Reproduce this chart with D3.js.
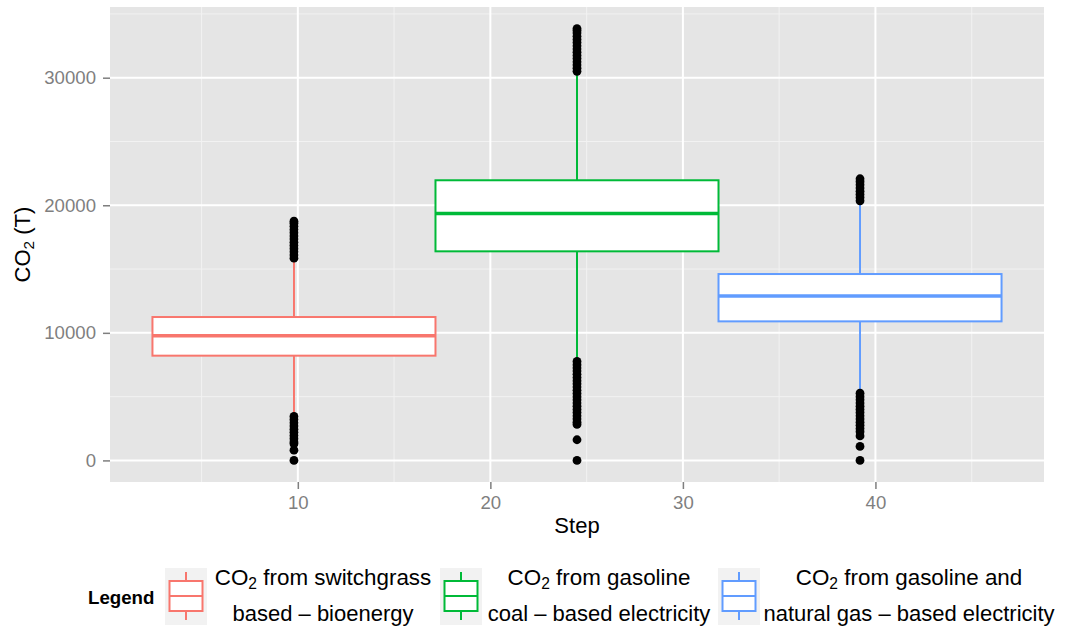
<!DOCTYPE html>
<html>
<head>
<meta charset="utf-8">
<script src="https://cdn.jsdelivr.net/npm/d3@7"></script>
<style>
  html, body { margin: 0; padding: 0; background: #ffffff; }
  svg { display: block; }
  text { font-family: "Liberation Sans", Arial, Helvetica, sans-serif; }
</style>
</head>
<body>
<svg id="chart" width="1073" height="631"></svg>
<script>
// ---------- data ----------
const seriesLine1 = ["from switchgrass", "from gasoline", "from gasoline and"];
const seriesLine2 = ["based \u2013 bioenergy", "coal \u2013 based electricity", "natural gas \u2013 based electricity"];
const colors = ["#F8766D", "#00BA38", "#619CFF"];
const steps = [9.8, 24.5, 39.2];
const boxWidth = 14.7;
const q1 = [8210, 16390, 10900];
const medians = [9780, 19350, 12890];
const q3 = [11240, 21960, 14610];
const whiskerLow = [3690, 7970, 5490];
const whiskerHigh = [15690, 30330, 20130];
const outliersSwitchgrass = [
  15850, 16100, 16350, 16600, 16850, 17100, 17350, 17600, 17850, 18100, 18350, 18600, 18750,
  3450, 3200, 2950, 2700, 2450, 2200, 1950, 1700, 1450, 1300, 800, 0
];
const outliersCoal = [
  30500, 30750, 31000, 31250, 31500, 31750, 32000, 32250, 32500, 32750, 33000, 33250, 33500, 33700, 33850,
  7760, 7500, 7250, 7000, 6750, 6500, 6250, 6000, 5750, 5500, 5250, 5000, 4750, 4500, 4250, 4000,
  3750, 3500, 3250, 3000, 2820, 1620, 0
];
const outliersNaturalGas = [
  20350, 20600, 20850, 21100, 21350, 21600, 21850, 22080,
  5270, 5000, 4750, 4500, 4250, 4000, 3750, 3500, 3250, 3000, 2750, 2500, 2250, 1920, 1100, 0
];
const outliers = [outliersSwitchgrass, outliersCoal, outliersNaturalGas];
const xMajorTicks = [10, 20, 30, 40];
const xMinorTicks = [5, 15, 25, 35, 45];
const yMajorTicks = [0, 10000, 20000, 30000];
const yMinorTicks = [5000, 15000, 25000, 35000];

// ---------- layout ----------
const panel = { left: 110, right: 1044, top: 7, bottom: 482 };
const svg = d3.select("#chart");

const xMin = d3.min(steps) - boxWidth / 2, xMax = d3.max(steps) + boxWidth / 2;
const xPad = (xMax - xMin) * 0.05;
const x = d3.scaleLinear().domain([xMin - xPad, xMax + xPad]).range([panel.left, panel.right]);

const allY = [].concat(...outliers, whiskerLow, whiskerHigh);
const yMin = d3.min(allY), yMax = d3.max(allY);
const yPad = (yMax - yMin) * 0.05;
const y = d3.scaleLinear().domain([yMin - yPad, yMax + yPad]).range([panel.bottom, panel.top]);

// panel background
svg.append("rect")
  .attr("x", panel.left).attr("y", panel.top)
  .attr("width", panel.right - panel.left).attr("height", panel.bottom - panel.top)
  .attr("fill", "#E5E5E5");

const grid = svg.append("g");
grid.selectAll(".xminor").data(xMinorTicks.filter(t => x(t) > panel.left && x(t) < panel.right)).enter().append("line")
  .attr("x1", d => x(d)).attr("x2", d => x(d)).attr("y1", panel.top).attr("y2", panel.bottom)
  .attr("stroke", "#F2F2F2").attr("stroke-width", 1);
grid.selectAll(".yminor").data(yMinorTicks.filter(t => y(t) > panel.top && y(t) < panel.bottom)).enter().append("line")
  .attr("y1", d => y(d)).attr("y2", d => y(d)).attr("x1", panel.left).attr("x2", panel.right)
  .attr("stroke", "#F2F2F2").attr("stroke-width", 1);
grid.selectAll(".xmajor").data(xMajorTicks).enter().append("line")
  .attr("x1", d => x(d)).attr("x2", d => x(d)).attr("y1", panel.top).attr("y2", panel.bottom)
  .attr("stroke", "#FFFFFF").attr("stroke-width", 2);
grid.selectAll(".ymajor").data(yMajorTicks).enter().append("line")
  .attr("y1", d => y(d)).attr("y2", d => y(d)).attr("x1", panel.left).attr("x2", panel.right)
  .attr("stroke", "#FFFFFF").attr("stroke-width", 2);

// boxes
const groups = d3.range(steps.length).map(i => ({
  i, step: steps[i], q1: q1[i], med: medians[i], q3: q3[i],
  lo: whiskerLow[i], hi: whiskerHigh[i], out: outliers[i], color: colors[i]
}));

const bx = svg.append("g").selectAll("g").data(groups).enter().append("g");
bx.append("line")
  .attr("x1", d => x(d.step)).attr("x2", d => x(d.step))
  .attr("y1", d => y(d.q3)).attr("y2", d => y(d.hi))
  .attr("stroke", d => d.color).attr("stroke-width", 2);
bx.append("line")
  .attr("x1", d => x(d.step)).attr("x2", d => x(d.step))
  .attr("y1", d => y(d.q1)).attr("y2", d => y(d.lo))
  .attr("stroke", d => d.color).attr("stroke-width", 2);
bx.append("rect")
  .attr("x", d => x(d.step - boxWidth / 2))
  .attr("width", d => x(d.step + boxWidth / 2) - x(d.step - boxWidth / 2))
  .attr("y", d => y(d.q3)).attr("height", d => y(d.q1) - y(d.q3))
  .attr("fill", "#FFFFFF").attr("stroke", d => d.color).attr("stroke-width", 2);
bx.append("line")
  .attr("x1", d => x(d.step - boxWidth / 2)).attr("x2", d => x(d.step + boxWidth / 2))
  .attr("y1", d => y(d.med)).attr("y2", d => y(d.med))
  .attr("stroke", d => d.color).attr("stroke-width", 3.5);
bx.selectAll("circle").data(d => d.out.map(v => ({ step: d.step, v }))).enter().append("circle")
  .attr("cx", d => x(d.step)).attr("cy", d => y(d.v)).attr("r", 4.4).attr("fill", "#000000");

// axes
const xAxis = svg.append("g").attr("transform", `translate(0,${panel.bottom})`)
  .call(d3.axisBottom(x).tickValues(xMajorTicks).tickSize(7).tickPadding(7).tickFormat(d3.format("d")));
const yAxis = svg.append("g").attr("transform", `translate(${panel.left},0)`)
  .call(d3.axisLeft(y).tickValues(yMajorTicks).tickSize(7).tickPadding(7).tickFormat(d3.format("d")));
[xAxis, yAxis].forEach(a => {
  a.select(".domain").remove();
  a.selectAll(".tick line").attr("stroke", "#7F7F7F").attr("stroke-width", 1.5);
  a.selectAll(".tick text").attr("fill", "#7F7F7F").style("font-size", "18.6px")
    .style("font-family", "'Liberation Sans', Arial, sans-serif");
});

// axis titles
svg.append("text")
  .attr("x", (panel.left + panel.right) / 2).attr("y", 533)
  .attr("text-anchor", "middle").style("font-size", "22px").attr("fill", "#000")
  .text("Step");

const yt = svg.append("text")
  .attr("transform", `translate(30,${(panel.top + panel.bottom) / 2}) rotate(-90)`)
  .attr("text-anchor", "middle").style("font-size", "22px").attr("fill", "#000");
yt.append("tspan").text("CO");
yt.append("tspan").attr("dy", 4).style("font-size", "15.4px").text("2");
yt.append("tspan").attr("dy", -4).text(" (T)");

// legend
svg.append("text").attr("x", 88).attr("y", 604)
  .style("font-size", "18.7px").style("font-weight", "bold").attr("fill", "#000")
  .text("Legend");

const keyX = [165, 440, 718];
const textCenter = [323, 599, 909];
const lg = svg.append("g").selectAll("g").data(groups).enter().append("g");
lg.append("rect")
  .attr("x", d => keyX[d.i]).attr("y", 568).attr("width", 42).attr("height", 57)
  .attr("fill", "#F2F2F2");
lg.append("line")
  .attr("x1", d => keyX[d.i] + 21).attr("x2", d => keyX[d.i] + 21)
  .attr("y1", 572).attr("y2", 620)
  .attr("stroke", d => d.color).attr("stroke-width", 2);
lg.append("rect")
  .attr("x", d => keyX[d.i] + 4.5).attr("y", 581).attr("width", 33).attr("height", 30)
  .attr("fill", "#FFFFFF").attr("stroke", d => d.color).attr("stroke-width", 2);
lg.append("line")
  .attr("x1", d => keyX[d.i] + 4.5).attr("x2", d => keyX[d.i] + 37.5)
  .attr("y1", 596).attr("y2", 596)
  .attr("stroke", d => d.color).attr("stroke-width", 2);
const t1 = lg.append("text")
  .attr("x", d => textCenter[d.i]).attr("y", 585)
  .attr("text-anchor", "middle").style("font-size", "22.4px").attr("fill", "#000");
t1.append("tspan").text("CO");
t1.append("tspan").attr("dy", 4).style("font-size", "15.6px").text("2");
t1.append("tspan").attr("dy", -4).text(d => " " + seriesLine1[d.i]);
lg.append("text")
  .attr("x", d => textCenter[d.i]).attr("y", 621)
  .attr("text-anchor", "middle").style("font-size", "22px").attr("fill", "#000")
  .text(d => seriesLine2[d.i]);
</script>
</body>
</html>
